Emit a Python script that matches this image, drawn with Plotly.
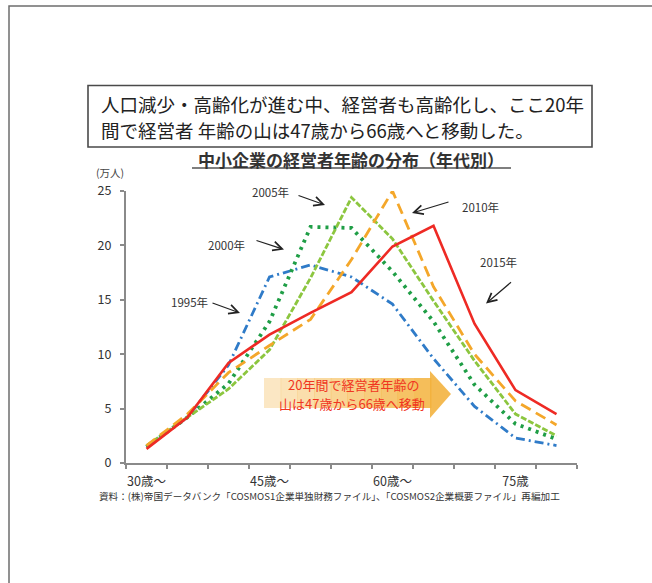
import plotly.graph_objects as go

# Age brackets (5-year groups) and the tick labels shown under them
categories = ["30～34歳", "35～39歳", "40～44歳", "45～49歳", "50～54歳", "55～59歳",
              "60～64歳", "65～69歳", "70～74歳", "75～79歳", "80歳～"]
tick_labels = ["30歳～", "", "", "45歳～", "", "", "60歳～", "", "", "75歳", ""]

# Number of SME owners by age bracket (unit: 10,000 people)
owners_1995 = [1.5, 4.2, 9.0, 17.1, 18.2, 17.1, 14.6, 9.6, 5.2, 2.3, 1.6]
owners_2000 = [1.5, 4.2, 7.3, 13.0, 21.7, 21.6, 17.6, 13.0, 7.2, 3.6, 2.2]
owners_2005 = [1.6, 4.2, 6.8, 10.4, 17.0, 24.4, 20.6, 14.9, 9.4, 4.5, 2.5]
owners_2010 = [1.6, 4.5, 8.3, 10.8, 13.2, 18.7, 25.0, 16.2, 10.0, 5.7, 3.5]
owners_2015 = [1.3, 4.2, 9.2, 11.8, 13.8, 15.7, 19.9, 21.8, 12.8, 6.7, 4.5]

series = [
    ("1995年", owners_1995, "#2f7bc8", "9px,4px,2px,4px", 2.8),
    ("2000年", owners_2000, "#1f9e46", "3px,5px", 3.8),
    ("2005年", owners_2005, "#8cc63f", "6px,2px", 2.8),
    ("2010年", owners_2010, "#f4a72a", "11px,6px", 2.8),
    ("2015年", owners_2015, "#ee2a24", "solid", 2.6),
]

W, H = 652, 583
L, R, T, B = 126, 577, 191, 463
FONT = "Noto Sans CJK JP, Noto Sans, sans-serif"


def px(x):
    return (x - L) / (R - L)


def py(y):
    return (B - y) / (B - T)


fig = go.Figure()
for name, vals, color, dash, width in series:
    fig.add_trace(go.Scatter(
        x=categories, y=vals, name=name, mode="lines",
        line=dict(color=color, dash=dash, width=width),
        hoverinfo="x+y+name",
    ))

shapes = []
# outer page frame
shapes.append(dict(type="rect", xref="paper", yref="paper",
                   x0=px(9), x1=px(700), y0=py(6), y1=py(640),
                   line=dict(color="#6e6e6e", width=1.5), layer="below"))
# headline box
shapes.append(dict(type="rect", xref="paper", yref="paper",
                   x0=px(88), x1=px(592), y0=py(85.5), y1=py(147),
                   line=dict(color="#4a4a4a", width=1.6), fillcolor="white", layer="below"))
# chart title underline
shapes.append(dict(type="line", xref="paper", yref="paper",
                   x0=px(192), x1=px(511), y0=py(168), y1=py(168),
                   line=dict(color="#555555", width=1.6)))

# gold arrow behind the shift message, fading in from the left
body_x0, body_x1 = 264, 431
n = 10
step = (body_x1 - body_x0) / n
for i in range(n):
    shapes.append(dict(type="rect", xref="paper", yref="paper",
                       x0=px(body_x0 + i * step), x1=px(body_x0 + (i + 1) * step + 0.5),
                       y0=py(378), y1=py(408),
                       fillcolor="#f3b13a", opacity=0.3 + 0.06 * i,
                       line=dict(width=0), layer="below"))
head = "M {} {} L {} {} L {} {} Z".format(
    px(430), py(371), px(451), py(394), px(430), py(418))
shapes.append(dict(type="path", xref="paper", yref="paper", path=head,
                   fillcolor="#f3b13a", opacity=0.88, line=dict(width=0), layer="below"))

annotations = []


def text(x, y, s, size, color="#333333", anchor="center", bold=False):
    annotations.append(dict(
        xref="paper", yref="paper", x=px(x), y=py(y), text=f"<b>{s}</b>" if bold else s,
        showarrow=False, xanchor=anchor, yanchor="middle", borderpad=0,
        font=dict(family=FONT, size=size, color=color)))


def arrow(x_tail, y_tail, x_head, y_head):
    annotations.append(dict(
        xref="paper", yref="paper", x=px(x_head), y=py(y_head),
        axref="pixel", ayref="pixel", ax=x_tail - x_head, ay=y_tail - y_head,
        text="", showarrow=True, arrowhead=5, arrowsize=1.5, arrowwidth=1.2,
        arrowcolor="#222222", standoff=0, startstandoff=0))


text(100, 104, "人口減少・高齢化が進む中、経営者も高齢化し、ここ20年", 18.5, "#222222", "left")
text(100, 130, "間で経営者 年齢の山は47歳から66歳へと移動した。", 18.5, "#222222", "left")
text(351, 159, "中小企業の経営者年齢の分布（年代別）", 17, "#333333", bold=True)
text(110, 172.5, "(万人)", 10.5, "#444444")

text(270, 191.5, "2005年", 11.5)
arrow(297, 195, 325, 205)
text(226.5, 245, "2000年", 11.5)
arrow(255, 240, 284, 249.5)
text(189, 301.5, "1995年", 11.5)
arrow(211, 302.5, 240, 313)
text(480, 206.5, "2010年", 11.5)
arrow(450, 201.5, 412, 213)
text(498, 262, "2015年", 11.5)
arrow(512.5, 281, 486, 303.5)

text(353, 384, "20年間で経営者年齢の", 13, "#f0361f")
text(352, 403, "山は47歳から66歳へ移動", 13, "#f0361f")

text(329, 495.5, "資料：(株)帝国データバンク「COSMOS1企業単独財務ファイル」、「COSMOS2企業概要ファイル」再編加工",
     9.6, "#333333")

fig.update_layout(
    width=W, height=H, autosize=False,
    margin=dict(l=L, r=W - R, t=T, b=H - B, pad=0),
    paper_bgcolor="white", plot_bgcolor="white",
    showlegend=False,
    font=dict(family=FONT, color="#333333"),
    shapes=shapes, annotations=annotations,
    xaxis=dict(
        type="category", categoryorder="array", categoryarray=categories,
        tickmode="array", tickvals=categories, ticktext=tick_labels,
        tickson="boundaries", ticks="outside", ticklen=4, tickwidth=1.5,
        tickcolor="#8a8a8a", showline=True, linecolor="#8a8a8a", linewidth=2,
        showgrid=False, zeroline=False, range=[-0.5, 10.5], tickangle=0,
        tickfont=dict(size=12.5, color="#333333"), ticklabelstandoff=6,
    ),
    yaxis=dict(
        range=[0, 25], tickvals=[0, 5, 10, 15, 20, 25],
        ticks="outside", ticklen=4, tickwidth=1.5, tickcolor="#8a8a8a",
        showline=True, linecolor="#8a8a8a", linewidth=2,
        showgrid=False, zeroline=False,
        tickfont=dict(size=12.5, color="#333333"), ticklabelstandoff=6,
    ),
)

fig.write_html("out.html")
